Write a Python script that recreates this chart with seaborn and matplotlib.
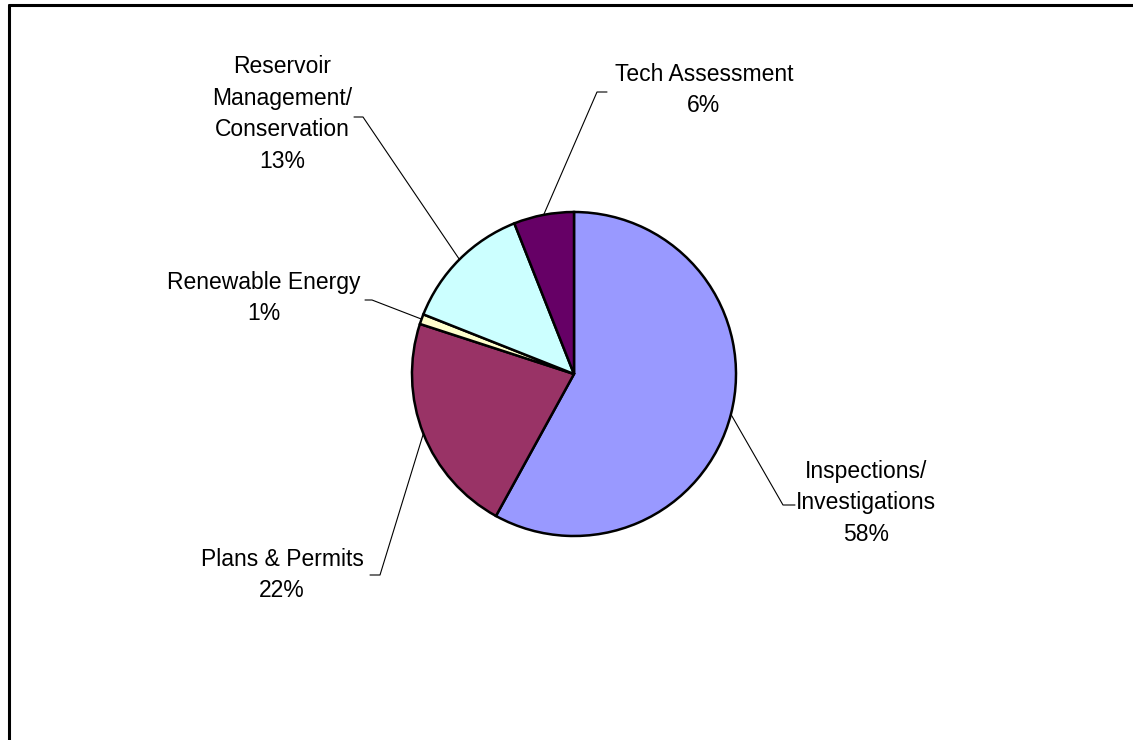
import numpy as np
import pandas as pd
import seaborn as sns
import matplotlib.pyplot as plt
from matplotlib.lines import Line2D

# Data
categories = ["Inspections/\nInvestigations", "Plans & Permits", "Renewable Energy",
              "Reservoir\nManagement/\nConservation", "Tech Assessment"]
shares = [58, 22, 1, 13, 6]
colors = ["#9999FF", "#993366", "#FFFFCC", "#CCFFFF", "#660066"]

df = pd.DataFrame({"category": categories, "share": shares})

W, H = 1133, 740

# label layout in pixels (from top-left): text centre, elbow of leader, tail end x
label_xy = [(866, 503), (282, 575), (264, 298), (282, 114), (704, 90)]
elbow_xy = [(783, 505), (380, 575), (372, 300), (363, 117), (597, 92)]
tail_x = [795, 370, 365, 354, 607]

sns.set_theme(style="white")
plt.rcParams["font.family"] = ["Liberation Sans", "DejaVu Sans"]
palette = sns.color_palette(colors)

fig = plt.figure(figsize=(W / 100, H / 100), dpi=100)
ax = fig.add_axes([0, 0, 1, 1])

cx, cy, r = 574, H - 374, 162
wedges, _ = ax.pie(df["share"], colors=palette, startangle=90, counterclock=False,
                   center=(cx, cy), radius=r, frame=True,
                   wedgeprops=dict(edgecolor="black", linewidth=1.8))
ax.set_xlim(0, W)
ax.set_ylim(0, H)
ax.axis("off")

for w, cat, val, (lx, ly), (ex, ey), tx in zip(wedges, df["category"], df["share"],
                                               label_xy, elbow_xy, tail_x):
    mid = np.deg2rad((w.theta1 + w.theta2) / 2)
    sx, sy = cx + r * np.cos(mid), cy + r * np.sin(mid)
    ax.plot([sx, ex, tx], [sy, H - ey, H - ey], color="black", lw=0.8, zorder=0)
    ax.text(lx, H - ly, f"{cat}\n{val}%", ha="center", va="center",
            multialignment="center", fontsize=16.5, linespacing=1.47, color="black")

# outer frame (top and left edges visible)
fig.add_artist(Line2D([8.5 / W, 1.0], [1 - 5 / H, 1 - 5 / H], transform=fig.transFigure,
                      color="black", lw=2.2))
fig.add_artist(Line2D([8.5 / W, 8.5 / W], [0, 1 - 5 / H], transform=fig.transFigure,
                      color="black", lw=2.2))

plt.savefig("out.png", dpi=100)
